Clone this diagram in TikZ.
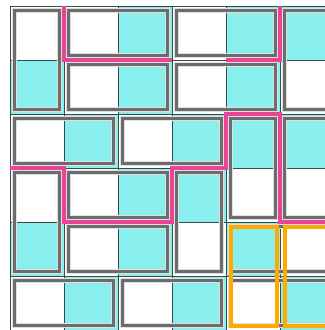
\documentclass[tikz,border=0pt]{standalone}
\usetikzlibrary{calc}
\definecolor{tilecyan}{RGB}{137,238,238}
\definecolor{tilegray}{RGB}{108,108,108}
\definecolor{cutpink}{RGB}{234,68,152}
\definecolor{fliporange}{RGB}{255,170,0}
\definecolor{gridslate}{RGB}{55,75,75}

\begin{document}
\begin{tikzpicture}[x=1cm,y=-1cm,line join=miter,
  cell/.style={fill=tilecyan},
  halo/.style={draw=gray!25,line width=2.9pt},
  domino/.style={draw=tilegray,line width=1.85pt},
  flip/.style={draw=fliporange,line width=2.1pt},
  cut/.style={draw=cutpink,line width=1.9pt}]
  \useasboundingbox (-0.185,-0.111) rectangle (5.833,6.0);
  \clip (-0.185,-0.111) rectangle (5.833,6.0);

  % coloured squares
  \foreach \c/\r in {2/0,4/0,5/0,0/1,2/1,4/1,1/2,3/2,4/2,5/2,2/3,3/3,0/4,2/4,4/4,1/5,3/5,5/5}
    \fill[cell] (\c,\r) rectangle ++(1,1);
  \draw[gridslate,line width=0.45pt] (0,0) grid (6,6);

  % tiling
  \foreach \c/\r/\w/\h in {0/0/1/2,1/0/2/1,3/0/2/1,5/0/1/2,1/1/2/1,3/1/2/1,
      0/2/2/1,2/2/2/1,4/2/1/2,5/2/1/2,0/3/1/2,1/3/2/1,3/3/1/2,
      1/4/2/1,4/4/2/1,0/5/2/1,2/5/2/1,4/5/2/1}{
    \draw[halo] ($(\c,\r)+(0.085,0.085)$) rectangle ($(\c+\w,\r+\h)-(0.085,0.085)$);
    \draw[domino] ($(\c,\r)+(0.085,0.085)$) rectangle ($(\c+\w,\r+\h)-(0.085,0.085)$);
  }

  % flipped pair
  \foreach \c in {4,5}
    \draw[flip] ($(\c,4)+(0.1,0.09)$) rectangle ($(\c+1,6)-(0.06,0.08)$);

  % cut lines
  \draw[cut] (1,0)--(1,1)--(3,1);
  \draw[cut] (4,1)--(5,1)--(5,0);
  \draw[cut] (0,3)--(1,3)--(1,4)--(3,4)--(3,3)--(4,3)--(4,2)--(5,2)--(5,4)--(6,4);
\end{tikzpicture}
\end{document}
